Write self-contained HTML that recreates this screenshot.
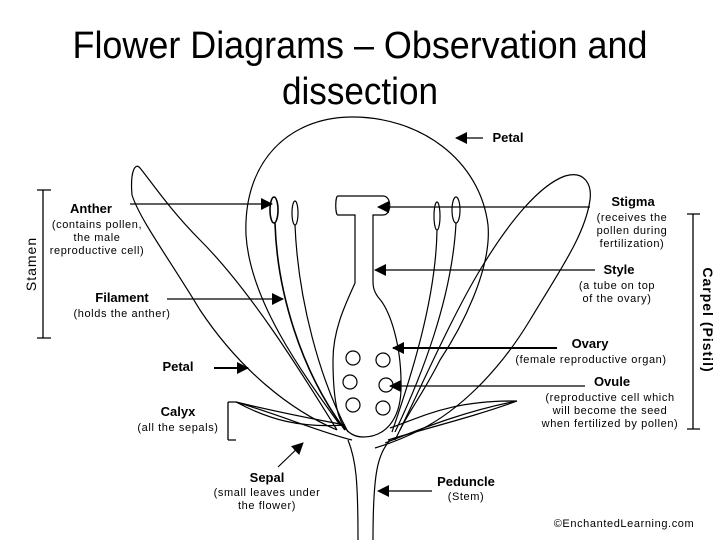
<!DOCTYPE html>
<html><head><meta charset="utf-8"><style>
html,body{margin:0;padding:0;background:#fff;}
svg{display:block;}
.t{font-family:"Liberation Sans",sans-serif;}
.b{font-family:"Liberation Sans",sans-serif;font-weight:bold;font-size:13px;}
.s{font-family:"Liberation Sans",sans-serif;font-size:11px;letter-spacing:0.6px;}
</style></head><body>
<svg width="720" height="540" viewBox="0 0 720 540" xmlns="http://www.w3.org/2000/svg">
<defs>
<marker id="ah" markerWidth="8" markerHeight="8" refX="7" refY="4" orient="auto" markerUnits="userSpaceOnUse">
<path d="M0,0 L8,4 L0,8 z" fill="#000"/></marker>
<marker id="ahb" markerWidth="12" markerHeight="12" refX="11" refY="6" orient="auto" markerUnits="userSpaceOnUse">
<path d="M0,0 L12,6 L0,12 z" fill="#000"/></marker>
</defs>
<text class="t" x="360" y="58" font-size="38" text-anchor="middle" textLength="575" lengthAdjust="spacingAndGlyphs">Flower Diagrams – Observation and</text>
<text class="t" x="360" y="104" font-size="38" text-anchor="middle" textLength="156" lengthAdjust="spacingAndGlyphs">dissection</text>

<g fill="none" stroke="#000" stroke-width="1.2">
<!-- big central petal -->
<path d="M340 425 C300 370 250 300 246 235 C243 160 290 118 350 117 C420 116 480 160 488 225 C492 270 460 330 440 360 C425 390 410 410 400 430"/>
<!-- left long petal -->
<path d="M337 430 C300 370 250 290 200 240 C170 210 150 180 140 168 C135 162 130 172 132 195 C140 220 170 260 200 310 C240 370 290 410 337 430"/>
<!-- right petal -->
<path d="M395 440 C420 390 450 320 480 270 C510 220 540 185 565 176 C585 170 592 185 590 200 C585 235 560 270 530 320 C500 370 460 410 420 430 C400 440 385 445 375 448"/>
<!-- sepals -->
<path d="M236 402 C290 415 320 420 345 425 C300 428 270 420 236 402 Z"/>
<path d="M236 402 C280 415 320 432 352 440"/>
<path d="M390 428 C420 418 450 400 517 401 C470 410 430 425 385 443"/>
<path d="M517 401 C480 415 420 430 388 440"/>
<!-- stem -->
<path d="M348 440 C356 460 358 480 358 540"/>
<path d="M390 440 C378 455 373 470 373 540"/>
<!-- pistil -->
<path d="M355 215 L355 283 C345 305 333 330 333 360 C333 410 340 437 363 437 C385 437 400 420 401 390 C402 345 390 310 378 297 C373 290 373 285 373 280 L373 215 L383 215 C392 215 392 196 383 196 L338 196 C335 196 335 215 338 215 Z"/>
<circle cx="353" cy="358" r="7"/><circle cx="383" cy="360" r="7"/>
<circle cx="350" cy="382" r="7"/><circle cx="386" cy="385" r="7"/>
<circle cx="353" cy="405" r="7"/><circle cx="383" cy="408" r="7"/>
<!-- stamens -->
<ellipse cx="274" cy="210" rx="4" ry="13" stroke-width="1.6"/>
<ellipse cx="295" cy="213" rx="3" ry="12"/>
<ellipse cx="437" cy="216" rx="3" ry="14"/>
<ellipse cx="456" cy="210" rx="4" ry="13"/>
<path d="M275 223 C277 290 300 370 345 430" stroke-width="1.6"/>
<path d="M295 225 C298 300 320 380 348 432"/>
<path d="M437 230 C436 300 410 380 392 432"/>
<path d="M456 223 C452 300 420 380 395 432"/>
</g>

<!-- brackets -->
<g stroke="#000" stroke-width="1.3" fill="none">
<path d="M43 190 V338 M37 190 H51 M37 338 H51"/>
<path d="M228 402 V440 M228 402 H236 M228 440 H236"/>
<path d="M693 214 V429 M687 214 H700 M687 429 H700"/>
</g>

<!-- arrows -->
<g stroke="#000" stroke-width="1.2">
<line x1="130" y1="204" x2="272" y2="204" marker-end="url(#ahb)"/>
<line x1="167" y1="299" x2="283" y2="299" marker-end="url(#ahb)"/>
<line x1="214" y1="368" x2="248" y2="368" stroke-width="2" marker-end="url(#ahb)"/>
<line x1="278" y1="467" x2="303" y2="443" marker-end="url(#ahb)"/>
<line x1="483" y1="138" x2="456" y2="138" marker-end="url(#ahb)"/>
<line x1="590" y1="207" x2="378" y2="207" marker-end="url(#ahb)"/>
<line x1="595" y1="270" x2="375" y2="270" marker-end="url(#ahb)"/>
<line x1="557" y1="348" x2="393" y2="348" stroke-width="2" marker-end="url(#ahb)"/>
<line x1="585" y1="386" x2="390" y2="386" marker-end="url(#ahb)"/>
<line x1="432" y1="491" x2="378" y2="491" marker-end="url(#ahb)"/>
</g>

<!-- labels -->
<g text-anchor="middle">
<text class="b" x="36" y="264" transform="rotate(-90 36 264)" font-weight="normal" style="font-weight:normal;font-size:14px;letter-spacing:1px">Stamen</text>
<text class="b" x="91" y="213">Anther</text>
<text class="s" x="97" y="228">(contains pollen,</text>
<text class="s" x="97" y="241">the male</text>
<text class="s" x="97" y="254">reproductive cell)</text>
<text class="b" x="122" y="302">Filament</text>
<text class="s" x="122" y="317">(holds the anther)</text>
<text class="b" x="178" y="371">Petal</text>
<text class="b" x="178" y="416">Calyx</text>
<text class="s" x="178" y="431">(all the sepals)</text>
<text class="b" x="267" y="482">Sepal</text>
<text class="s" x="267" y="496">(small leaves under</text>
<text class="s" x="267" y="509">the flower)</text>
<text class="b" x="508" y="142">Petal</text>
<text class="b" x="633" y="206">Stigma</text>
<text class="s" x="632" y="221">(receives the</text>
<text class="s" x="632" y="234">pollen during</text>
<text class="s" x="632" y="247">fertilization)</text>
<text class="b" x="619" y="274">Style</text>
<text class="s" x="617" y="289">(a tube on top</text>
<text class="s" x="617" y="302">of the ovary)</text>
<text class="b" x="590" y="348">Ovary</text>
<text class="s" x="591" y="363">(female reproductive organ)</text>
<text class="b" x="612" y="386">Ovule</text>
<text class="s" x="610" y="401">(reproductive cell which</text>
<text class="s" x="610" y="414">will become the seed</text>
<text class="s" x="610" y="427">when fertilized by pollen)</text>
<text class="b" x="466" y="486">Peduncle</text>
<text class="s" x="466" y="500">(Stem)</text>
<text class="b" x="703" y="320" transform="rotate(90 703 320)" style="font-size:14px;letter-spacing:1px">Carpel (Pistil)</text>
<text class="s" x="624" y="527">©EnchantedLearning.com</text>
</g>
</svg>
</body></html>
